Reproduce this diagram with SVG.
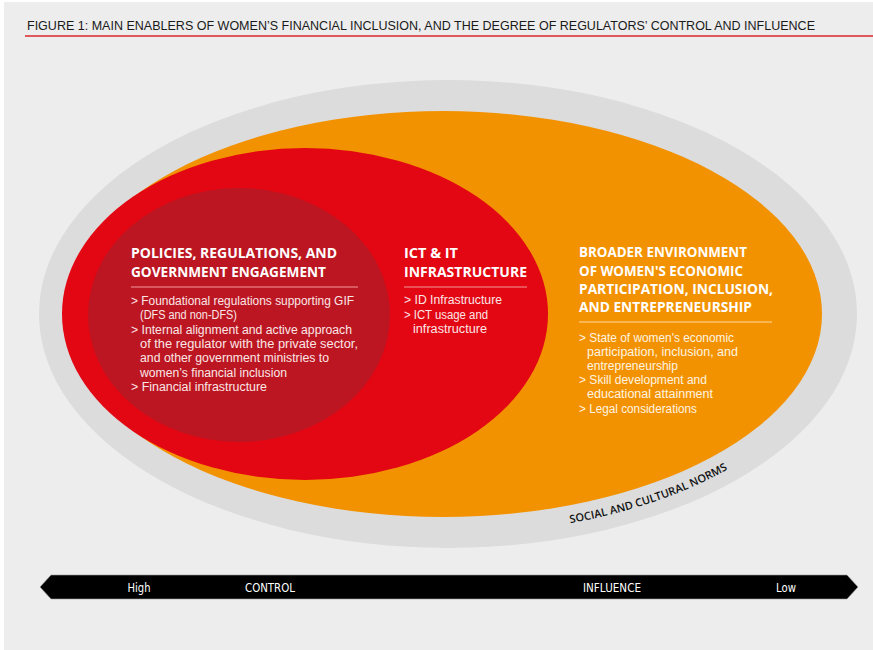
<svg xmlns="http://www.w3.org/2000/svg" width="873" height="650" viewBox="0 0 873 650">
  <style>
    .h { font-family: "Open Sans", "DejaVu Sans", sans-serif; font-weight: bold; font-size: 14.5px; fill: #ffffff; }
    .b { font-family: "Liberation Sans", "DejaVu Sans", sans-serif; font-size: 12px; }
    .br { fill: #fbe6e6; }
    .bo { fill: #fff4e2; }
    .bar { font-family: "DejaVu Sans", "Liberation Sans", sans-serif; font-size: 12.5px; fill: #ffffff; text-anchor: middle; }
    .sep-r { stroke: #f29a9a; stroke-width: 1; }
    .sep-o { stroke: #ffd8a0; stroke-width: 1; }
  </style>
  <defs>
    <path id="normsPath" d="M 448 534 A 395 220 0 0 0 843 314"/>
  </defs>

  <rect x="0" y="0" width="873" height="650" fill="#ffffff"/>
  <rect x="4" y="2" width="869" height="648" fill="#ededed"/>

  <g id="title">
    <text x="27" y="30" font-family="'Liberation Sans', 'DejaVu Sans', sans-serif" font-size="13" fill="#1a1a1a" textLength="788" lengthAdjust="spacingAndGlyphs">FIGURE 1: MAIN ENABLERS OF WOMEN’S FINANCIAL INCLUSION, AND THE DEGREE OF REGULATORS’ CONTROL AND INFLUENCE</text>
    <line x1="25" y1="36" x2="873" y2="36" stroke="#d9262b" stroke-width="1.5"/>
  </g>

  <g id="social-norms">
    <ellipse cx="448" cy="314" rx="409" ry="234" fill="#dcdcdc"/>
  </g>

  <g id="broader-environment">
    <ellipse cx="443" cy="314" rx="379" ry="203" fill="#f39200"/>
  </g>

  <g id="ict-infrastructure">
    <ellipse cx="305" cy="314" rx="243" ry="166" fill="#e30613"/>
  </g>

  <g id="policies">
    <ellipse cx="239" cy="315" rx="151" ry="127" fill="#bc1622"/>
  </g>

  <g id="policies-text">
    <text class="h" x="131" y="258" textLength="206" lengthAdjust="spacingAndGlyphs">POLICIES, REGULATIONS, AND</text>
    <text class="h" x="131" y="277" textLength="195" lengthAdjust="spacingAndGlyphs">GOVERNMENT ENGAGEMENT</text>
    <line class="sep-r" x1="131" y1="287" x2="358" y2="287"/>
    <text class="b br" x="131" y="305" textLength="223" lengthAdjust="spacingAndGlyphs">&gt; Foundational regulations supporting GIF</text>
    <text class="b br" x="140" y="319" textLength="97" lengthAdjust="spacingAndGlyphs">(DFS and non-DFS)</text>
    <text class="b br" x="131" y="334" textLength="221" lengthAdjust="spacingAndGlyphs">&gt; Internal alignment and active approach</text>
    <text class="b br" x="140" y="348" textLength="218" lengthAdjust="spacingAndGlyphs">of the regulator with the private sector,</text>
    <text class="b br" x="140" y="362" textLength="189" lengthAdjust="spacingAndGlyphs">and other government ministries to</text>
    <text class="b br" x="140" y="377" textLength="147" lengthAdjust="spacingAndGlyphs">women’s financial inclusion</text>
    <text class="b br" x="131" y="391" textLength="136" lengthAdjust="spacingAndGlyphs">&gt; Financial infrastructure</text>
  </g>

  <g id="ict-text">
    <text class="h" x="404" y="258" textLength="54" lengthAdjust="spacingAndGlyphs">ICT &amp; IT</text>
    <text class="h" x="404" y="277" textLength="123" lengthAdjust="spacingAndGlyphs">INFRASTRUCTURE</text>
    <line class="sep-r" x1="404" y1="287" x2="527" y2="287"/>
    <text class="b br" x="404" y="304" textLength="98" lengthAdjust="spacingAndGlyphs">&gt; ID Infrastructure</text>
    <text class="b br" x="404" y="319" textLength="84" lengthAdjust="spacingAndGlyphs">&gt; ICT usage and</text>
    <text class="b br" x="413" y="333" textLength="74" lengthAdjust="spacingAndGlyphs">infrastructure</text>
  </g>

  <g id="broader-text">
    <text class="h" x="579" y="257" textLength="168" lengthAdjust="spacingAndGlyphs">BROADER ENVIRONMENT</text>
    <text class="h" x="579" y="276" textLength="164" lengthAdjust="spacingAndGlyphs">OF WOMEN'S ECONOMIC</text>
    <text class="h" x="579" y="294" textLength="194" lengthAdjust="spacingAndGlyphs">PARTICIPATION, INCLUSION,</text>
    <text class="h" x="579" y="312" textLength="173" lengthAdjust="spacingAndGlyphs">AND ENTREPRENEURSHIP</text>
    <line class="sep-o" x1="579" y1="322" x2="772" y2="322"/>
    <text class="b bo" x="579" y="342" textLength="155" lengthAdjust="spacingAndGlyphs">&gt; State of women's economic</text>
    <text class="b bo" x="587" y="356" textLength="151" lengthAdjust="spacingAndGlyphs">participation, inclusion, and</text>
    <text class="b bo" x="587" y="370" textLength="91" lengthAdjust="spacingAndGlyphs">entrepreneurship</text>
    <text class="b bo" x="579" y="384" textLength="128" lengthAdjust="spacingAndGlyphs">&gt; Skill development and</text>
    <text class="b bo" x="587" y="398" textLength="126" lengthAdjust="spacingAndGlyphs">educational attainment</text>
    <text class="b bo" x="579" y="413" textLength="118" lengthAdjust="spacingAndGlyphs">&gt; Legal considerations</text>
  </g>

  <g id="norms-label">
    <text font-family="'Open Sans', 'DejaVu Sans', sans-serif" font-weight="600" font-size="11" fill="#111111"><textPath href="#normsPath" startOffset="123" textLength="167" lengthAdjust="spacingAndGlyphs">SOCIAL AND CULTURAL NORMS</textPath></text>
  </g>

  <g id="connectors"/>

  <g id="scale-bar">
    <polygon points="40,587 51,575 847,575 858,587 847,599 51,599" fill="#000000" stroke="#9a9a9a" stroke-width="0.6"/>
    <text class="bar" x="139" y="591.5" textLength="23" lengthAdjust="spacingAndGlyphs">High</text>
    <text class="bar" x="270" y="591.5" textLength="50" lengthAdjust="spacingAndGlyphs">CONTROL</text>
    <text class="bar" x="612" y="591.5" textLength="58" lengthAdjust="spacingAndGlyphs">INFLUENCE</text>
    <text class="bar" x="786" y="591.5" textLength="20" lengthAdjust="spacingAndGlyphs">Low</text>
  </g>
</svg>
